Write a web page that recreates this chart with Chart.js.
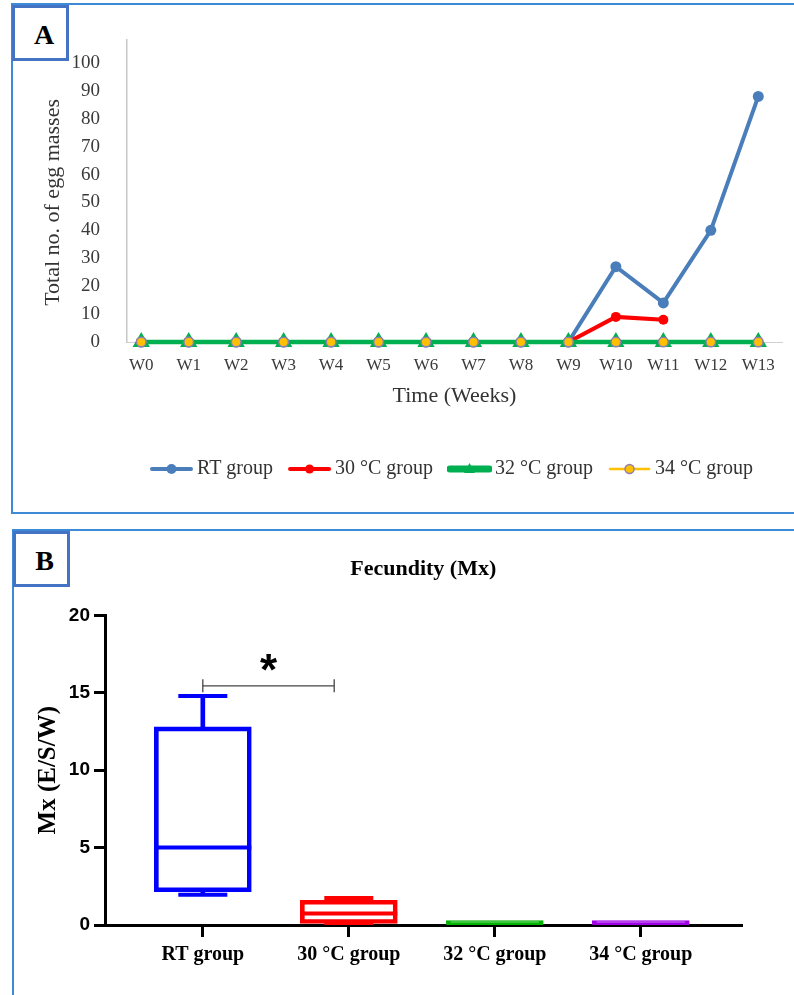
<!DOCTYPE html>
<html>
<head>
<meta charset="utf-8">
<script src="https://cdn.jsdelivr.net/npm/chart.js@4.4.1/dist/chart.umd.min.js"></script>
<style>
html,body{margin:0;padding:0;background:#fff;}
body{width:794px;height:995px;overflow:hidden;position:relative;}
.panel{position:absolute;border:2px solid #3d8ad6;box-sizing:border-box;z-index:1;}
#pA{left:11px;top:3px;width:800px;height:511px;}
#pB{left:12px;top:529px;width:800px;height:480px;}
.lab{position:absolute;background:#fff;border:3px solid #4472c4;box-sizing:border-box;font:bold 28px "Liberation Serif",serif;color:#000;display:flex;align-items:center;justify-content:center;z-index:3;}
#lA{left:12px;top:5px;width:57px;height:56px;padding-left:7px;padding-top:3px;}
#lB{left:13px;top:531px;width:57px;height:56px;padding-left:6px;padding-top:4px;}
canvas{position:absolute;left:0;z-index:2;}
#cA{top:0;}
#cB{top:520px;}
</style>
</head>
<body>
<div class="panel" id="pA"></div>
<div class="panel" id="pB"></div>
<div class="lab" id="lA">A</div>
<div class="lab" id="lB">B</div>
<canvas id="cA" width="794" height="495" style="width:794px;height:495px"></canvas>
<canvas id="cB" width="794" height="475" style="width:794px;height:475px"></canvas>
<script>
// ---------- Panel A data ----------
const weeks = ['W0','W1','W2','W3','W4','W5','W6','W7','W8','W9','W10','W11','W12','W13'];
const rtGroup = [0,0,0,0,0,0,0,0,0,0,27,14,40,88];
const group30 = [0,0,0,0,0,0,0,0,0,0,9,8,null,null];
const group32 = [0,0,0,0,0,0,0,0,0,0,0,0,0,0];
const group34 = [0,0,0,0,0,0,0,0,0,0,0,0,0,0];
const yTicksA = [0,10,20,30,40,50,60,70,80,90,100];
const seriesNamesA = ['RT group','30 °C group','32 °C group','34 °C group'];
const yTitleA = 'Total no. of egg masses';
const xTitleA = 'Time (Weeks)';

// ---------- Panel B data ----------
const groupsB = ['RT group','30 °C group','32 °C group','34 °C group'];
const mxMin    = [1.95, 0,    0, 0];
const mxQ1     = [2.15, 0,    0, 0];
const mxMedian = [5.0,  0.75, 0, 0];
const mxQ3     = [12.8, 1.6,  0, 0];
const mxMax    = [14.8, 1.75, 0, 0];
const yTicksB = [0,5,10,15,20];
const sigPair = [0, 0.9];
const sigLevel = 15.45;
const sigText = '*';
const titleB = 'Fecundity (Mx)';
const yTitleB = 'Mx (E/S/W)';

Chart.defaults.font.family = "'Liberation Serif', serif";

const xy = arr => arr.map((v,i) => ({x:i, y:v}));

// legend swatches: line + marker
function swatch(color, lw, marker) {
  const c = document.createElement('canvas');
  c.width = 45; c.height = 16;
  const g = c.getContext('2d');
  g.strokeStyle = color; g.lineWidth = lw; g.lineCap = 'round';
  g.beginPath(); g.moveTo(3, 8); g.lineTo(42, 8); g.stroke();
  marker(g, 22.5, 8);
  return c;
}
const swatches = [
  swatch('#4a7ebb', 4, (g,x,y)=>{g.fillStyle='#4a7ebb';g.beginPath();g.arc(x,y,5,0,Math.PI*2);g.fill();}),
  swatch('#ff0000', 4, (g,x,y)=>{g.fillStyle='#ff0000';g.beginPath();g.arc(x,y,4.5,0,Math.PI*2);g.fill();}),
  swatch('#00b050', 7, (g,x,y)=>{g.fillStyle='#00b050';g.beginPath();g.moveTo(x,y-6);g.lineTo(x+5.5,y+4);g.lineTo(x-5.5,y+4);g.closePath();g.fill();}),
  swatch('#ffc000', 2.5, (g,x,y)=>{g.fillStyle='#ffc000';g.strokeStyle='#8f7fb0';g.lineWidth=1.5;g.beginPath();g.arc(x,y,4.5,0,Math.PI*2);g.fill();g.stroke();})
];

const yTitlePluginA = {
  id: 'yTitleA',
  afterDraw(chart) {
    const {ctx, scales:{y}} = chart;
    const mid = (y.getPixelForValue(yTicksA[0]) + y.getPixelForValue(yTicksA[yTicksA.length-1])) / 2;
    ctx.save();
    ctx.translate(53, mid);
    ctx.rotate(-Math.PI/2);
    ctx.font = "22px 'Liberation Serif'";
    ctx.fillStyle = '#333';
    ctx.textAlign = 'center';
    ctx.textBaseline = 'middle';
    ctx.fillText(yTitleA, 0, 0);
    ctx.restore();
  }
};

new Chart(document.getElementById('cA'), {
  type: 'line',
  data: {
    datasets: [
      {label: seriesNamesA[0], data: xy(rtGroup), borderColor:'#4a7ebb', backgroundColor:'#4a7ebb',
       borderWidth:4, pointRadius:5.5, pointBorderWidth:0, order:5, clip:false},
      {label: seriesNamesA[1], data: xy(group30), borderColor:'#ff0000', backgroundColor:'#ff0000',
       borderWidth:4, pointRadius:5, pointBorderWidth:0, order:4, clip:false},
      {label: seriesNamesA[3], data: xy(group34), borderColor:'#ffc000', borderWidth:2.5,
       pointRadius:0, order:3, clip:false},
      {label: seriesNamesA[2], data: xy(group32), borderColor:'#00b050', backgroundColor:'#00b050',
       borderWidth:4.5, pointStyle:'triangle', pointRadius:10, pointBorderWidth:0, order:2, clip:false},
      {label: seriesNamesA[3], data: xy(group34), showLine:false, backgroundColor:'#ffc000',
       pointBorderColor:'#8f7fb0', pointBorderWidth:1.5, pointRadius:4.8, order:1, clip:false}
    ]
  },
  options: {
    responsive:false, animation:false, devicePixelRatio:1,
    layout:{padding:{top:40, right:12, bottom:6, left:0}},
    elements:{line:{tension:0}},
    plugins:{
      tooltip:{enabled:false},
      legend:{
        position:'bottom', fullSize:false,
        labels:{
          usePointStyle:true, pointStyleWidth:31, padding:21,
          font:{family:"'Liberation Serif'", size:20}, color:'#333',
          generateLabels: () => seriesNamesA.map((t,i) => ({text:t, pointStyle:swatches[i], lineWidth:0, hidden:false, fontColor:'#333', datasetIndex:i}))
        }
      }
    },
    scales:{
      x:{
        type:'linear', min:-0.3, max:13.5, offset:false,
        afterBuildTicks: s => { s.ticks = weeks.map((_,i)=>({value:i})); },
        afterFit: s => { s.height = 96; },
        grid:{display:false, drawTicks:false},
        border:{color:'#cfcfcf', width:1},
        ticks:{callback:(v)=>weeks[v], font:{size:17}, color:'#3a3a3a', padding:13, maxRotation:0, autoSkip:false},
        title:{display:true, text:xTitleA, font:{size:22}, color:'#333', padding:{top:0,bottom:29}}
      },
      y:{
        min:0, max:108.2,
        afterBuildTicks: s => { s.ticks = yTicksA.map(v=>({value:v})); },
        afterFit: s => { s.width = 127; },
        grid:{display:false, drawTicks:false},
        border:{color:'#c8c8c8', width:1.5},
        ticks:{font:{size:19}, color:'#3a3a3a', padding:27}
      }
    }
  },
  plugins:[yTitlePluginA]
});

// ---------- Panel B ----------
const boxColors = ['#0000ff','#ff0000','#00b400','#a000e6'];

const sigPlugin = {
  id:'sig',
  afterDatasetsDraw(chart) {
    const {ctx, scales:{x,y}} = chart;
    const px = x.getPixelForValue((sigPair[0]+sigPair[1])/2);
    const py = y.getPixelForValue(sigLevel);
    ctx.save();
    ctx.font = "bold 44px 'Liberation Sans'";
    ctx.fillStyle = '#000';
    ctx.textAlign = 'center';
    ctx.textBaseline = 'alphabetic';
    ctx.fillText(sigText, px, py - 1);
    ctx.restore();
  }
};

new Chart(document.getElementById('cB'), {
  type:'bar',
  data:{
    datasets:[
      {type:'bar', data: groupsB.map((_,i)=>({x:i, y:[mxQ3[i], mxMax[i]]})), backgroundColor:boxColors,
       borderWidth:0, barThickness:4, grouped:false, order:4},
      {type:'bar', data: groupsB.map((_,i)=>({x:i, y:[mxMin[i], mxQ1[i]]})), backgroundColor:boxColors,
       borderWidth:0, barThickness:4, grouped:false, order:4},
      {type:'bar', data: groupsB.map((_,i)=>({x:i, y:[mxQ1[i], mxQ3[i]]})), backgroundColor:'rgba(0,0,0,0)',
       borderColor:boxColors, borderWidth:4, borderSkipped:false, barThickness:97, minBarLength:4.5, grouped:false, order:3},
      {type:'scatter', data: xy(mxMedian), pointStyle:'line', pointRadius:48.5, pointBorderWidth:4,
       pointBorderColor:boxColors, clip:0, order:2},
      {type:'scatter', data: xy(mxMax), pointStyle:'line', pointRadius:24.5, pointBorderWidth:4,
       pointBorderColor:boxColors, clip:0, order:2},
      {type:'scatter', data: xy(mxMin), pointStyle:'line', pointRadius:24.5, pointBorderWidth:4,
       pointBorderColor:boxColors, clip:0, order:2},
      {type:'line', data:[{x:sigPair[0], y:sigLevel},{x:sigPair[1], y:sigLevel}], borderColor:'#444',
       borderWidth:1.3, pointStyle:'line', pointRotation:90, pointRadius:6.5, pointBorderWidth:1.3,
       pointBorderColor:'#444', clip:false, order:1}
    ]
  },
  options:{
    responsive:false, animation:false, devicePixelRatio:1,
    layout:{padding:{top:0, right:43, bottom:20, left:0}},
    plugins:{
      legend:{display:false},
      tooltip:{enabled:false},
      title:{display:true, text:titleB, fullSize:false, color:'#000',
             font:{family:"'Liberation Serif'", size:22, weight:'bold'}, padding:{top:36, bottom:33}}
    },
    scales:{
      x:{
        type:'linear', min:-0.67, max:3.69, offset:false,
        afterBuildTicks: s => { s.ticks = groupsB.map((_,i)=>({value:i})); },
        afterFit: s => { s.height = 50; },
        grid:{display:true, drawOnChartArea:false, drawTicks:true, tickLength:12, lineWidth:3, color:'#000', offset:false},
        border:{color:'#000', width:3},
        ticks:{callback:(v)=>groupsB[v], font:{family:"'Liberation Serif'", size:20, weight:'bold'}, color:'#000', padding:6, maxRotation:0, autoSkip:false}
      },
      y:{
        min:0, max:20,
        afterBuildTicks: s => { s.ticks = yTicksB.map(v=>({value:v})); },
        afterFit: s => { s.width = 105; },
        grid:{display:true, drawOnChartArea:false, drawTicks:true, tickLength:11, lineWidth:3, color:'#000'},
        border:{color:'#000', width:3},
        ticks:{font:{family:"'Liberation Sans'", size:19, weight:'bold'}, color:'#000', padding:4},
        title:{display:true, text:yTitleB, color:'#000', font:{family:"'Liberation Serif'", size:25, weight:'bold'}, padding:{top:34, bottom:0}}
      }
    }
  },
  plugins:[sigPlugin]
});
</script>
</body>
</html>
